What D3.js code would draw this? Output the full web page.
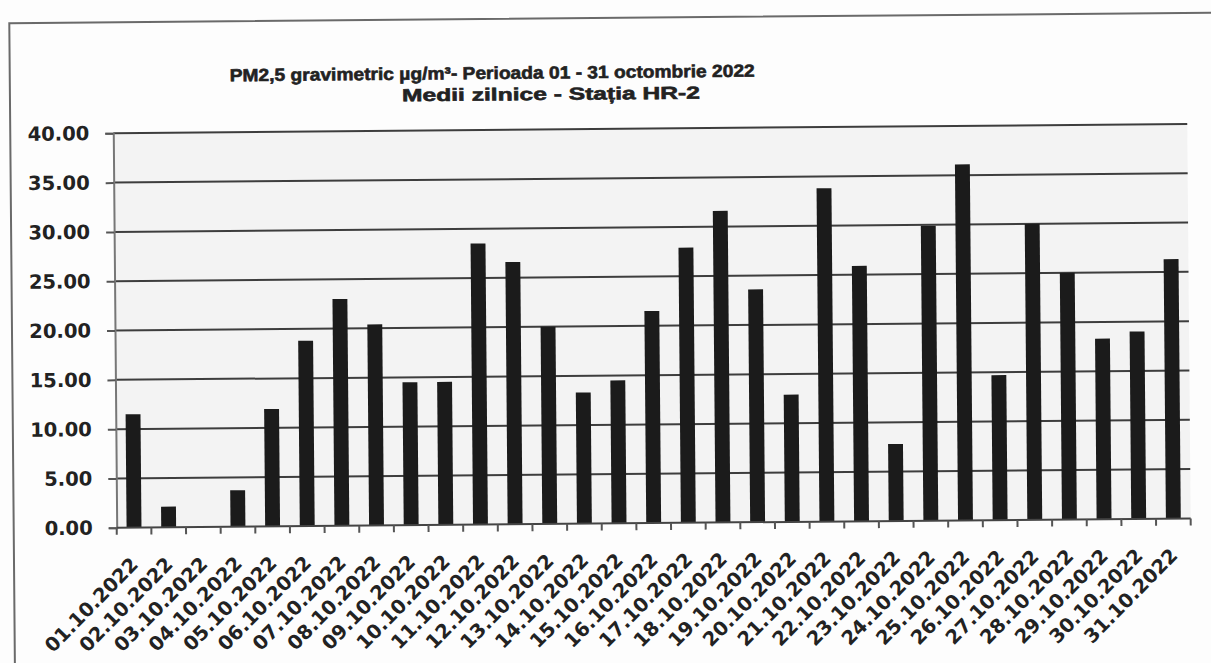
<!DOCTYPE html>
<html>
<head>
<meta charset="utf-8">
<script src="https://cdn.jsdelivr.net/npm/d3@7"></script>
<style>
  html, body { margin: 0; padding: 0; background: #fdfdfd; }
  svg { display: block; }
</style>
</head>
<body>
<svg id="chart" width="1211" height="663"></svg>
<script>
const categories = ["01.10.2022","02.10.2022","03.10.2022","04.10.2022","05.10.2022","06.10.2022","07.10.2022","08.10.2022","09.10.2022","10.10.2022","11.10.2022","12.10.2022","13.10.2022","14.10.2022","15.10.2022","16.10.2022","17.10.2022","18.10.2022","19.10.2022","20.10.2022","21.10.2022","22.10.2022","23.10.2022","24.10.2022","25.10.2022","26.10.2022","27.10.2022","28.10.2022","29.10.2022","30.10.2022","31.10.2022"];
const values = [11.5,2.1,0,3.7,11.9,18.8,23.0,20.4,14.5,14.5,28.5,26.6,20.0,13.3,14.5,21.5,27.9,31.6,23.6,12.9,33.8,25.9,7.8,29.9,36.1,14.7,30.0,25.0,18.3,19.0,26.3];
const yTicks = [0,5,10,15,20,25,30,35,40];
const titleLine1 = "PM2,5 gravimetric µg/m³- Perioada 01 - 31 octombrie  2022";
const titleLine2 = "Medii zilnice - Stația HR-2";

const svg = d3.select("#chart");
const root = svg.append("g").attr("transform", "rotate(-0.5, 605, 330)");

// outer frame
root.append("rect")
  .attr("x", 12).attr("y", 18).attr("width", 1220).attr("height", 660)
  .attr("fill", "#fdfdfd").attr("stroke", "#6a6a6a").attr("stroke-width", 2);

const plot = { left: 115, right: 1189, top: 129, bottom: 523.5 };

const x = d3.scaleBand().domain(categories)
  .range([plot.left, plot.right]).paddingInner(0.57).paddingOuter(0.285);
const y = d3.scaleLinear().domain([0, 40]).range([plot.bottom, plot.top]);

// plot background
root.append("rect")
  .attr("x", plot.left).attr("y", plot.top)
  .attr("width", plot.right - plot.left).attr("height", plot.bottom - plot.top)
  .attr("fill", "#f3f3f3");

// gridlines
root.append("g").selectAll("line").data(yTicks.filter(d => d > 0)).join("line")
  .attr("x1", plot.left).attr("x2", plot.right)
  .attr("y1", d => y(d)).attr("y2", d => y(d))
  .attr("stroke", "#3d3d3d").attr("stroke-width", 2);

// bars
root.append("g").selectAll("rect").data(values).join("rect")
  .attr("x", (d, i) => x(categories[i]))
  .attr("width", x.bandwidth())
  .attr("y", d => y(d))
  .attr("height", d => y(0) - y(d))
  .attr("fill", "#1b1b1b");

// y axis
const yAxis = d3.axisLeft(y).tickValues(yTicks).tickFormat(d3.format(".2f")).tickSize(8).tickPadding(16);
const gy = root.append("g").attr("transform", `translate(${plot.left},0)`).call(yAxis);
gy.select(".domain").attr("stroke", "#777").attr("stroke-width", 2);
gy.selectAll(".tick line").attr("stroke", "#555").attr("stroke-width", 2);
gy.selectAll(".tick text")
  .attr("font-family", "DejaVu Sans").attr("font-weight", "bold")
  .attr("font-size", 19.5).attr("fill", "#222");

// x axis (ticks between categories)
const bounds = categories.map((c, i) => plot.left + i * x.step()).concat([plot.right]);
const gx = root.append("g");
gx.append("line")
  .attr("x1", plot.left).attr("x2", plot.right)
  .attr("y1", y(0)).attr("y2", y(0))
  .attr("stroke", "#444").attr("stroke-width", 2);
gx.selectAll("line.tk").data(bounds).join("line").attr("class", "tk")
  .attr("x1", d => d).attr("x2", d => d)
  .attr("y1", y(0)).attr("y2", y(0) + 7)
  .attr("stroke", "#555").attr("stroke-width", 2);
gx.selectAll("text").data(categories).join("text")
  .attr("transform", d => `translate(${x(d) + x.bandwidth() / 2 + 5},${y(0) + 38}) rotate(-45)`)
  .attr("text-anchor", "end")
  .attr("font-family", "DejaVu Sans").attr("font-weight", "bold")
  .attr("font-size", 19.5).attr("fill", "#222")
  .text(d => d);

// title
root.append("text")
  .attr("x", 232).attr("y", 78)
  .attr("textLength", 525).attr("lengthAdjust", "spacingAndGlyphs")
  .attr("font-family", "Liberation Sans").attr("font-weight", "bold")
  .attr("font-size", 17.5).attr("fill", "#222")
  .attr("stroke", "#222").attr("stroke-width", 0.6)
  .text(titleLine1);
root.append("text")
  .attr("x", 404).attr("y", 99.5)
  .attr("textLength", 298).attr("lengthAdjust", "spacingAndGlyphs")
  .attr("font-family", "Liberation Sans").attr("font-weight", "bold")
  .attr("font-size", 17.5).attr("fill", "#222")
  .attr("stroke", "#222").attr("stroke-width", 0.6)
  .text(titleLine2);
</script>
</body>
</html>
